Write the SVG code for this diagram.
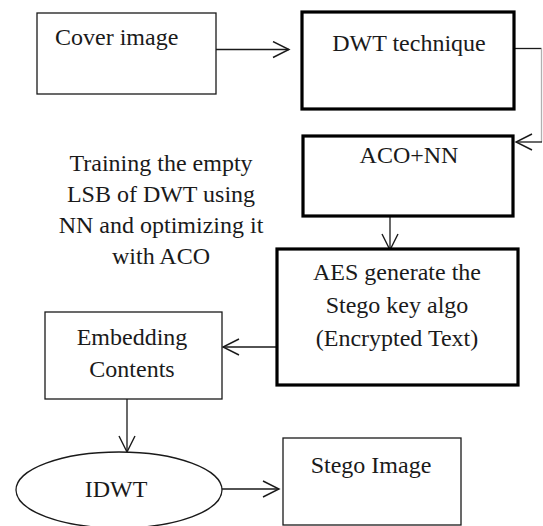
<svg xmlns="http://www.w3.org/2000/svg" width="543" height="526" viewBox="0 0 543 526">
<style>
  .thin{fill:#fff;stroke:#1a1a1a;stroke-width:1.3}
  .thick{fill:#fff;stroke:#000;stroke-width:3.2}
  text{font-family:'Liberation Serif','Times New Roman','DejaVu Serif',serif;font-size:24px;fill:#1a1a1a}
  .c{text-anchor:middle}
  .edge{fill:none;stroke:#1a1a1a;stroke-width:1.3}
</style>
<defs>
  <marker id="arr" markerWidth="20" markerHeight="20" refX="17" refY="9" orient="auto" markerUnits="userSpaceOnUse">
    <path d="M1,1 L17,9 L1,17" fill="none" stroke="#1a1a1a" stroke-width="1.4"/>
  </marker>
</defs>
<rect width="543" height="526" fill="#fff"/>
<g id="connectors">
  <line class="edge" x1="216" y1="49.5" x2="289" y2="49.5" marker-end="url(#arr)"/>
  <polyline class="edge" points="514,48.5 541.5,48.5"/>
  <line x1="541.5" y1="48.5" x2="541.5" y2="142" stroke="#b0b0b0" stroke-width="1.3"/>
  <line class="edge" x1="542" y1="142" x2="516" y2="142" marker-end="url(#arr)"/>
  <line class="edge" x1="390" y1="216" x2="390" y2="250" marker-end="url(#arr)"/>
  <line class="edge" x1="277" y1="347" x2="223" y2="347" marker-end="url(#arr)"/>
  <line class="edge" x1="127" y1="399" x2="127" y2="452" marker-end="url(#arr)"/>
  <line class="edge" x1="222" y1="489" x2="279" y2="489" marker-end="url(#arr)"/>
</g>
<g id="cover">
  <rect class="thin" x="37" y="13" width="179" height="81"/>
  <text font-family="Liberation Serif, serif" x="55" y="45">Cover image</text>
</g>
<g id="dwt">
  <rect class="thick" x="302" y="12" width="212" height="97"/>
  <text class="c" x="409" y="51">DWT technique</text>
</g>
<g id="aconn">
  <rect class="thick" x="303" y="136" width="210" height="80"/>
  <text class="c" x="409" y="163">ACO+NN</text>
</g>
<g id="training">
  <text class="c" x="161" y="171">Training the empty</text>
  <text class="c" x="161" y="202">LSB of DWT using</text>
  <text class="c" x="161" y="233">NN and optimizing it</text>
  <text class="c" x="161" y="264">with ACO</text>
</g>
<g id="aes">
  <rect class="thick" x="277" y="249" width="241" height="136"/>
  <text class="c" x="397" y="280">AES generate the</text>
  <text class="c" x="397" y="313">Stego key algo</text>
  <text class="c" x="397" y="346">(Encrypted Text)</text>
</g>
<g id="embedding">
  <rect class="thin" x="45" y="312" width="177" height="87"/>
  <text class="c" x="132" y="345">Embedding</text>
  <text class="c" x="132" y="377">Contents</text>
</g>
<g id="idwt">
  <ellipse class="thin" cx="119" cy="490" rx="103" ry="38"/>
  <text class="c" x="116" y="497">IDWT</text>
</g>
<g id="stego">
  <rect class="thin" x="283" y="438" width="178" height="87"/>
  <text class="c" x="371" y="473">Stego Image</text>
</g>
</svg>
